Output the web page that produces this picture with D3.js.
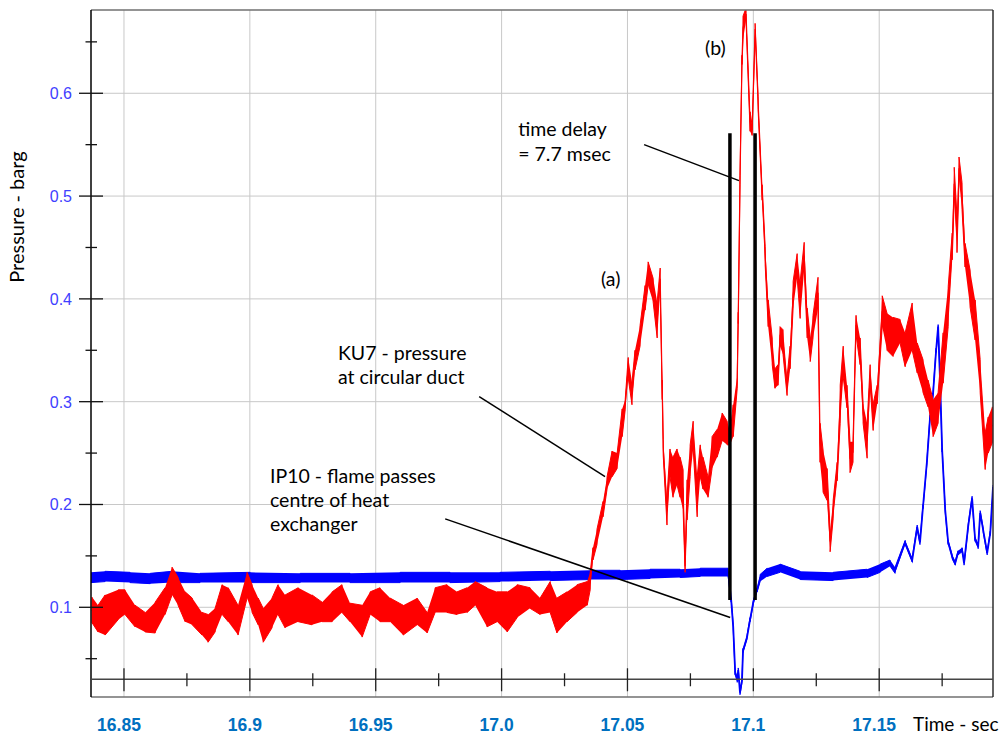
<!DOCTYPE html>
<html>
<head>
<meta charset="utf-8">
<script src="https://cdn.jsdelivr.net/npm/d3@7"></script>
<style>
  body { margin: 0; background: #fff; }
  svg { display: block; }
</style>
</head>
<body>
<svg id="chart" width="1003" height="737"></svg>
<script>
// KU7 - pressure at circular duct (barg): sample times with the lower / upper
// envelope of the noisy trace at each sample
const kuTime = [
  16.8373, 16.8397, 16.8425, 16.8477, 16.8504, 16.8544, 16.8584, 16.8624, 16.8663, 16.8691,
  16.8715, 16.8743, 16.8771, 16.8810, 16.8834, 16.8862, 16.8890, 16.8914, 16.8953, 16.8989,
  16.9009, 16.9033, 16.9053, 16.9088, 16.9112, 16.9140, 16.9192, 16.9247, 16.9287, 16.9327,
  16.9366, 16.9398, 16.9446, 16.9478, 16.9517, 16.9557, 16.9609, 16.9664, 16.9704, 16.9736,
  16.9783, 16.9823, 16.9863, 16.9895, 16.9942, 16.9982, 17.0022, 17.0062, 17.0113, 17.0153,
  17.0193, 17.0220, 17.0260, 17.0300, 17.0340, 17.0352, 17.0363, 17.0379, 17.0403, 17.0419,
  17.0439, 17.0459, 17.0479, 17.0491, 17.0503, 17.0518, 17.0530, 17.0550, 17.0570, 17.0582,
  17.0602, 17.0618, 17.0630, 17.0638, 17.0642, 17.0657, 17.0669, 17.0681, 17.0697, 17.0709,
  17.0721, 17.0729, 17.0737, 17.0749, 17.0761, 17.0777, 17.0789, 17.0800, 17.0820, 17.0836,
  17.0856, 17.0876, 17.0896, 17.0908, 17.0920, 17.0936, 17.0940, 17.0947, 17.0955, 17.0959,
  17.0971, 17.0987, 17.0995, 17.1007, 17.1019, 17.1035, 17.1047, 17.1059, 17.1075, 17.1086,
  17.1098, 17.1106, 17.1118, 17.1134, 17.1146, 17.1158, 17.1174, 17.1186, 17.1202, 17.1214,
  17.1226, 17.1237, 17.1257, 17.1265, 17.1277, 17.1293, 17.1305, 17.1317, 17.1333, 17.1345,
  17.1357, 17.1372, 17.1384, 17.1396, 17.1408, 17.1424, 17.1436, 17.1452, 17.1464, 17.1476,
  17.1492, 17.1512, 17.1531, 17.1555, 17.1583, 17.1603, 17.1631, 17.1651, 17.1674, 17.1694,
  17.1714, 17.1734, 17.1754, 17.1774, 17.1790, 17.1798, 17.1809, 17.1817, 17.1829, 17.1841,
  17.1861, 17.1881, 17.1901, 17.1921, 17.1933, 17.1949
];
const kuHigh = [
  0.110, 0.102, 0.112, 0.117, 0.117, 0.102, 0.095, 0.105, 0.119, 0.139,
  0.129, 0.115, 0.109, 0.095, 0.093, 0.099, 0.122, 0.119, 0.102, 0.134,
  0.122, 0.109, 0.099, 0.109, 0.122, 0.112, 0.119, 0.112, 0.105, 0.115,
  0.122, 0.104, 0.102, 0.115, 0.119, 0.109, 0.102, 0.109, 0.095, 0.119,
  0.122, 0.115, 0.119, 0.125, 0.119, 0.115, 0.115, 0.122, 0.119, 0.109,
  0.125, 0.109, 0.115, 0.122, 0.125, 0.134, 0.158, 0.176, 0.203, 0.227,
  0.252, 0.250, 0.293, 0.302, 0.343, 0.319, 0.350, 0.374, 0.413, 0.436,
  0.420, 0.397, 0.430, 0.321, 0.263, 0.207, 0.254, 0.246, 0.254, 0.246,
  0.234, 0.146, 0.224, 0.258, 0.281, 0.227, 0.258, 0.246, 0.227, 0.266,
  0.273, 0.289, 0.281, 0.270, 0.297, 0.325, 0.387, 0.520, 0.637, 0.675,
  0.683, 0.582, 0.569, 0.668, 0.597, 0.511, 0.451, 0.399, 0.362, 0.332,
  0.336, 0.373, 0.370, 0.324, 0.354, 0.417, 0.444, 0.417, 0.455, 0.391,
  0.362, 0.384, 0.421, 0.279, 0.253, 0.235, 0.174, 0.204, 0.241, 0.316,
  0.354, 0.316, 0.261, 0.261, 0.384, 0.362, 0.298, 0.279, 0.336, 0.298,
  0.316, 0.403, 0.386, 0.382, 0.380, 0.367, 0.396, 0.357, 0.341, 0.321,
  0.302, 0.309, 0.367, 0.412, 0.464, 0.528, 0.480, 0.538, 0.513, 0.454,
  0.428, 0.399, 0.341, 0.270, 0.285, 0.295
];
const kuLow = [
  0.085, 0.076, 0.073, 0.088, 0.093, 0.081, 0.076, 0.075, 0.093, 0.112,
  0.102, 0.086, 0.083, 0.073, 0.066, 0.076, 0.093, 0.086, 0.073, 0.109,
  0.095, 0.083, 0.066, 0.080, 0.093, 0.080, 0.086, 0.083, 0.086, 0.086,
  0.095, 0.086, 0.071, 0.093, 0.086, 0.086, 0.073, 0.083, 0.075, 0.095,
  0.095, 0.093, 0.095, 0.102, 0.081, 0.086, 0.076, 0.090, 0.099, 0.093,
  0.095, 0.075, 0.086, 0.095, 0.102, 0.117, 0.146, 0.161, 0.188, 0.215,
  0.227, 0.235, 0.266, 0.292, 0.323, 0.297, 0.331, 0.354, 0.389, 0.413,
  0.397, 0.362, 0.409, 0.302, 0.248, 0.180, 0.227, 0.207, 0.219, 0.207,
  0.195, 0.134, 0.185, 0.227, 0.254, 0.188, 0.227, 0.215, 0.207, 0.235,
  0.246, 0.262, 0.258, 0.258, 0.266, 0.313, 0.376, 0.511, 0.628, 0.652,
  0.671, 0.563, 0.559, 0.657, 0.584, 0.496, 0.433, 0.373, 0.336, 0.313,
  0.316, 0.354, 0.346, 0.306, 0.332, 0.391, 0.421, 0.381, 0.429, 0.362,
  0.339, 0.362, 0.391, 0.241, 0.212, 0.204, 0.154, 0.186, 0.223, 0.279,
  0.324, 0.294, 0.231, 0.241, 0.365, 0.336, 0.279, 0.245, 0.316, 0.272,
  0.298, 0.373, 0.350, 0.344, 0.357, 0.334, 0.350, 0.328, 0.309, 0.295,
  0.266, 0.279, 0.318, 0.373, 0.438, 0.496, 0.445, 0.516, 0.487, 0.431,
  0.392, 0.360, 0.309, 0.234, 0.250, 0.260
];

// IP10 - flame passes centre of heat exchanger: sample times with lower / upper envelope
const ipTime = [
  16.8369, 16.8425, 16.8524, 16.8604, 16.8691, 16.8802, 16.9001, 16.9200, 16.9398, 16.9597,
  16.9795, 16.9994, 17.0193, 17.0352, 17.0471, 17.0590, 17.0709, 17.0789, 17.0900, 17.0912,
  17.0920, 17.0928, 17.0936, 17.0940, 17.0947, 17.0955, 17.0959, 17.0975, 17.0987, 17.0999,
  17.1015, 17.1027, 17.1055, 17.1106, 17.1186, 17.1317, 17.1452, 17.1504, 17.1543, 17.1563,
  17.1603, 17.1631, 17.1651, 17.1662, 17.1674, 17.1690, 17.1702, 17.1714, 17.1726, 17.1734,
  17.1742, 17.1750, 17.1762, 17.1774, 17.1790, 17.1802, 17.1813, 17.1829, 17.1837, 17.1853,
  17.1869, 17.1881, 17.1893, 17.1901, 17.1913, 17.1929, 17.1941, 17.1952
];
const ipHigh = [
  0.134, 0.135, 0.134, 0.133, 0.135, 0.133, 0.134, 0.133, 0.133, 0.134,
  0.134, 0.134, 0.135, 0.136, 0.136, 0.137, 0.137, 0.138, 0.138, 0.109,
  0.083, 0.038, 0.031, 0.041, 0.019, 0.031, 0.060, 0.073, 0.090, 0.106,
  0.119, 0.132, 0.138, 0.142, 0.135, 0.134, 0.137, 0.142, 0.146, 0.139,
  0.165, 0.148, 0.180, 0.165, 0.200, 0.245, 0.287, 0.310, 0.352, 0.375,
  0.320, 0.255, 0.197, 0.165, 0.151, 0.145, 0.155, 0.158, 0.145, 0.180,
  0.208, 0.168, 0.161, 0.194, 0.177, 0.155, 0.174, 0.219
];
const ipLow = [
  0.124, 0.125, 0.124, 0.123, 0.124, 0.124, 0.124, 0.124, 0.124, 0.124,
  0.124, 0.125, 0.126, 0.127, 0.127, 0.128, 0.129, 0.130, 0.130, 0.105,
  0.079, 0.034, 0.027, 0.037, 0.015, 0.027, 0.056, 0.069, 0.086, 0.102,
  0.115, 0.125, 0.130, 0.134, 0.127, 0.126, 0.129, 0.134, 0.140, 0.133,
  0.161, 0.144, 0.176, 0.161, 0.196, 0.241, 0.283, 0.306, 0.348, 0.371,
  0.316, 0.251, 0.193, 0.161, 0.147, 0.141, 0.151, 0.154, 0.141, 0.176,
  0.204, 0.164, 0.157, 0.190, 0.173, 0.151, 0.170, 0.215
];

// Time-delay markers (sec) and their vertical extent (barg)
const delayBars = [17.0907, 17.1007];
const delayBarRange = [0.107, 0.561];

// Axis ticks
const xTicks = [16.85, 16.9, 16.95, 17.0, 17.05, 17.1, 17.15];
const xTickLabels = ["16.85", "16.9", "16.95", "17.0", "17.05", "17.1", "17.15"];
const xMinorTicks = [16.875, 16.925, 16.975, 17.025, 17.075, 17.125, 17.175];
const yTicks = [0.1, 0.2, 0.3, 0.4, 0.5, 0.6];
const yTickLabels = ["0.1", "0.2", "0.3", "0.4", "0.5", "0.6"];
const yMinorTicks = [0.05, 0.15, 0.25, 0.35, 0.45, 0.55, 0.65];
const xAxisLevel = 0.03;

// Annotations: text lines anchored at (time, pressure), leader lines between two points
const notes = [
  { t: 17.0808, v: 0.637, lines: ["(b)"] },
  { t: 17.0066, v: 0.558, lines: ["time delay", "= 7.7 msec"] },
  { t: 17.0395, v: 0.413, lines: ["(a)"] },
  { t: 16.9350, v: 0.341, lines: ["KU7 - pressure", "at circular duct"] },
  { t: 16.9080, v: 0.221, lines: ["IP10 - flame passes", "centre of heat", "exchanger"] }
];
const leaders = [
  [[17.0566, 0.550], [17.0943, 0.515]],
  [[16.9911, 0.305], [17.0411, 0.227]],
  [[16.9776, 0.186], [17.0908, 0.090]]
];

const svg = d3.select("#chart");
const L = 91, R = 993, T = 10, B = 697;

const x = d3.scaleLinear().domain([16.8369, 17.1952]).range([L, R]);
const y = d3.scaleLinear().domain([0.01274, 0.6810]).range([B, T]);

const textFont = "Lato, 'Open Sans', sans-serif";
const numFont = "'Liberation Sans', Arial, sans-serif";

// grid
const grid = svg.append("g").attr("stroke", "#c8c8c8").attr("stroke-width", 1);
grid.selectAll("line.v").data(xTicks).join("line")
  .attr("x1", d => x(d)).attr("x2", d => x(d)).attr("y1", T).attr("y2", B);
grid.selectAll("line.h").data(yTicks).join("line")
  .attr("x1", L).attr("x2", R).attr("y1", d => y(d)).attr("y2", d => y(d));

// plot clip
svg.append("defs").append("clipPath").attr("id", "plotClip")
  .append("rect").attr("x", L).attr("y", T).attr("width", R - L).attr("height", B - T);
const plot = svg.append("g").attr("clip-path", "url(#plotClip)");

function drawTrace(times, lows, highs, color, coreWidth) {
  const n = Math.min(times.length, lows.length, highs.length);
  const pts = d3.range(n).map(i => ({ t: times[i], lo: lows[i], hi: highs[i] }));
  plot.append("path").datum(pts)
    .attr("fill", color)
    .attr("d", d3.area().x(d => x(d.t)).y0(d => y(d.lo)).y1(d => y(d.hi)));
  // min/max trace through each sample
  const zig = [];
  pts.forEach((d, i) => {
    if (i % 2) { zig.push([d.t, d.lo]); zig.push([d.t, d.hi]); }
    else { zig.push([d.t, d.hi]); zig.push([d.t, d.lo]); }
  });
  plot.append("path").datum(zig)
    .attr("fill", "none").attr("stroke", color).attr("stroke-width", 1)
    .attr("stroke-linejoin", "round")
    .attr("d", d3.line().x(d => x(d[0])).y(d => y(d[1])));
  plot.append("path").datum(pts)
    .attr("fill", "none").attr("stroke", color).attr("stroke-width", coreWidth)
    .attr("d", d3.line().x(d => x(d.t)).y(d => y((d.lo + d.hi) / 2)));
}

drawTrace(ipTime, ipLow, ipHigh, "#0000ff", 1.8);
drawTrace(kuTime, kuLow, kuHigh, "#ff0000", 1.2);

// time-delay bars
plot.selectAll("line.bar").data(delayBars).join("line")
  .attr("x1", d => x(d)).attr("x2", d => x(d))
  .attr("y1", y(delayBarRange[0])).attr("y2", y(delayBarRange[1]))
  .attr("stroke", "#000").attr("stroke-width", 3.5);

// leader lines
svg.append("g").selectAll("line").data(leaders).join("line")
  .attr("x1", d => x(d[0][0])).attr("y1", d => y(d[0][1]))
  .attr("x2", d => x(d[1][0])).attr("y2", d => y(d[1][1]))
  .attr("stroke", "#000").attr("stroke-width", 1.5);

// frame
svg.append("line").attr("x1", L).attr("x2", R).attr("y1", T).attr("y2", T)
  .attr("stroke", "#707070").attr("stroke-width", 1.6);
svg.append("line").attr("x1", L).attr("x2", R).attr("y1", B).attr("y2", B)
  .attr("stroke", "#707070").attr("stroke-width", 1.6);
svg.append("line").attr("x1", R).attr("x2", R).attr("y1", T).attr("y2", B)
  .attr("stroke", "#222").attr("stroke-width", 1.4);
svg.append("line").attr("x1", L).attr("x2", L).attr("y1", T).attr("y2", B)
  .attr("stroke", "#000").attr("stroke-width", 1.5);

// horizontal time axis
const ax = y(xAxisLevel);
svg.append("line").attr("x1", L).attr("x2", R).attr("y1", ax).attr("y2", ax)
  .attr("stroke", "#444").attr("stroke-width", 1.3);
svg.append("g").attr("stroke", "#222").attr("stroke-width", 1.3)
  .selectAll("line").data(xTicks).join("line")
  .attr("x1", d => x(d)).attr("x2", d => x(d)).attr("y1", ax - 11).attr("y2", ax + 12);
svg.append("g").attr("stroke", "#222").attr("stroke-width", 1.3)
  .selectAll("line").data(xMinorTicks).join("line")
  .attr("x1", d => x(d)).attr("x2", d => x(d)).attr("y1", ax - 6).attr("y2", ax + 7);

// pressure axis ticks
svg.append("g").attr("stroke", "#111").attr("stroke-width", 1.3)
  .selectAll("line").data(yTicks).join("line")
  .attr("x1", L - 12).attr("x2", L + 12).attr("y1", d => y(d)).attr("y2", d => y(d));
svg.append("g").attr("stroke", "#111").attr("stroke-width", 1.3)
  .selectAll("line").data(yMinorTicks).join("line")
  .attr("x1", L - 5.5).attr("x2", L + 6).attr("y1", d => y(d)).attr("y2", d => y(d));

// tick labels
svg.append("g").selectAll("text").data(yTicks).join("text")
  .attr("x", 72).attr("y", d => y(d) + 6)
  .attr("text-anchor", "end")
  .attr("font-family", numFont).attr("font-size", 16).attr("fill", "#4040ff")
  .text((d, i) => yTickLabels[i]);
svg.append("g").selectAll("text").data(xTicks).join("text")
  .attr("x", d => x(d) - 5).attr("y", 731)
  .attr("text-anchor", "middle")
  .attr("font-family", numFont).attr("font-size", 17.5).attr("font-weight", "bold")
  .attr("fill", "#0070c0")
  .text((d, i) => xTickLabels[i]);

// axis titles
svg.append("text").attr("x", 913).attr("y", 731)
  .attr("font-family", textFont).attr("font-size", 19).attr("fill", "#000")
  .text("Time - sec");
svg.append("text").attr("transform", "translate(24,217) rotate(-90)")
  .attr("text-anchor", "middle")
  .attr("font-family", textFont).attr("font-size", 20).attr("fill", "#000")
  .text("Pressure - barg");

// annotation texts
const noteSel = svg.append("g").selectAll("text").data(notes).join("text")
  .attr("x", d => x(d.t)).attr("y", d => y(d.v))
  .attr("font-family", textFont).attr("font-size", 19.5).attr("fill", "#000");
noteSel.selectAll("tspan").data(d => d.lines.map(s => ({ s, t: d.t }))).join("tspan")
  .attr("x", d => x(d.t)).attr("dy", (d, i) => i === 0 ? 0 : 24.3)
  .text(d => d.s);
</script>
</body>
</html>
